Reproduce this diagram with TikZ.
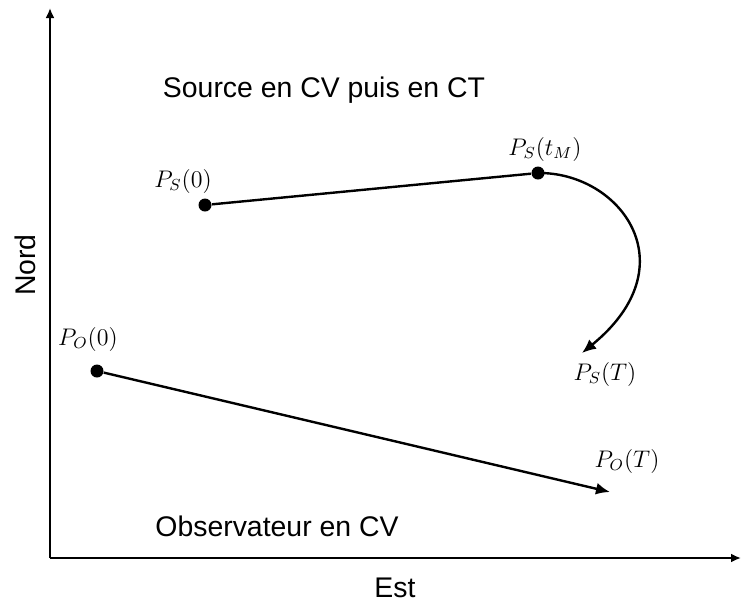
\documentclass[tikz,border=0pt]{standalone}
\usepackage{amsmath,amssymb}
\usepackage{fontspec}
\setmainfont{Liberation Sans}
\usepackage{xcolor}
\usepackage{tikz}
\usetikzlibrary{arrows.meta,positioning,calc}

\begin{document}
\begin{tikzpicture}[
  x=0.5pt, y=-0.5pt,
  dot/.style={circle, fill=black, inner sep=0pt, minimum size=6.5pt},
  lbl/.style={inner sep=0pt, font=\fontsize{12}{14}\selectfont},
  txt/.style={inner sep=0pt, font=\fontsize{14.2}{17}\selectfont},
  axis/.style={-{Latex[length=5pt,width=4.5pt]}, line width=1pt},
  traj/.style={line width=1.2pt},
  tip/.style={-{Latex[length=7pt,width=6pt]}}
]
\useasboundingbox (0,0) rectangle (741,602);
% axes
\coordinate (orig) at (50,558);
\coordinate (ytop) at (50,8);
\coordinate (xend) at (741,558);
\draw[axis] (orig) -- (ytop);
\draw[axis] (orig) -- (xend);
\node[txt, rotate=90] (nord) at (25,265) {Nord};
\node[txt] (est) at (395,588) {Est};
% source
\node[dot] (ps0) at (205,205) {};
\node[dot] (pstm) at (538,173) {};
\coordinate (psT) at (582,353);
\draw[traj] (ps0) -- (pstm);
\draw[traj, tip] (pstm.center) .. controls (620,172) and (690,265) .. (psT);
\node[lbl] at (183,181) {$P_S\!\left(0\right)$};
\node[lbl] at (545,149) {$P_S\!\left(t_M\right)$};
\node[lbl] at (605,374) {$P_S\!\left(T\right)$};
\node[txt] (src) at (324,90) {Source en CV puis en CT};
% observateur
\node[dot] (po0) at (97,371) {};
\coordinate (poT) at (610,492);
\draw[traj, tip] (po0) -- (poT);
\node[lbl] at (88,339) {$P_O\!\left(0\right)$};
\node[lbl] at (627,461) {$P_O\!\left(T\right)$};
\node[txt] (obs) at (277,526) {Observateur en CV};
\end{tikzpicture}
\end{document}
